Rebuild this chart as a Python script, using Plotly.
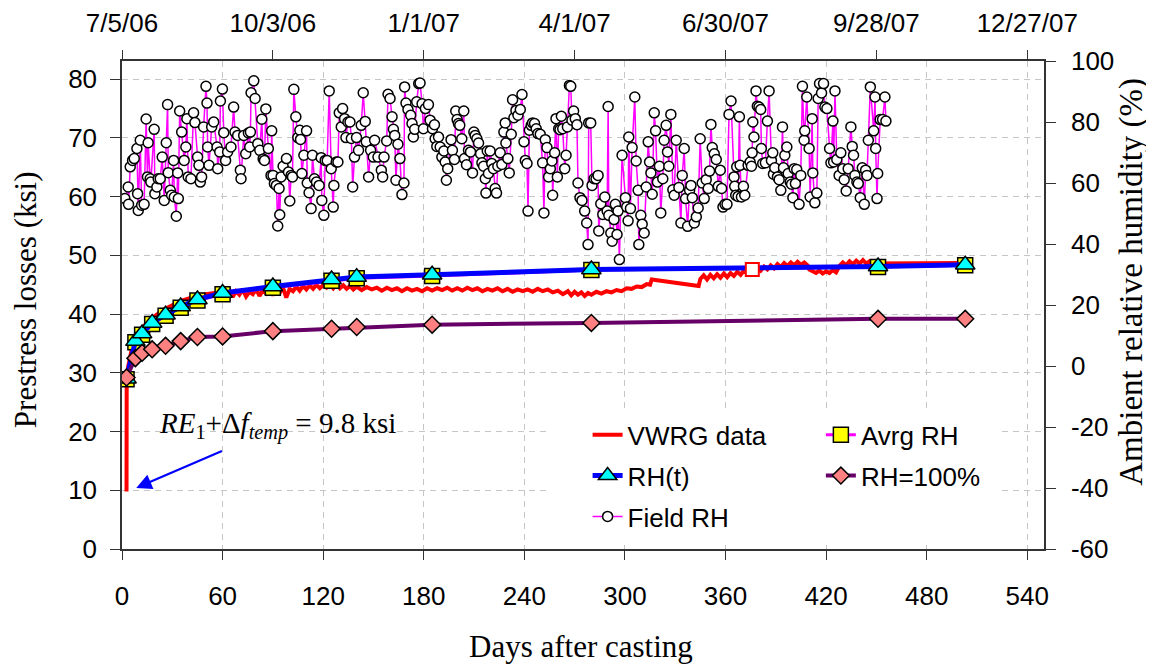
import pandas as pd
import plotly.graph_objects as go

# ---------------- data ----------------
x_ticks = [0, 60, 120, 180, 240, 300, 360, 420, 480, 540]
y_ticks = [0, 10, 20, 30, 40, 50, 60, 70, 80]
y2_ticks = [-60, -40, -20, 0, 20, 40, 60, 80, 100]
y2_labels = ["-60", "-40", "-20", "0", "20", "40", "60", "80", "100"]
cast_date = "2006-07-05"
date_ticks = ["2006-07-05", "2006-10-03", "2007-01-01", "2007-04-01",
              "2007-06-30", "2007-09-28", "2007-12-27"]
date_labels = ["7/5/06", "10/3/06", "1/1/07", "4/1/07", "6/30/07", "9/28/07", "12/27/07"]
date_range = ["2006-07-05", "2008-01-06"]

vwrg_days = [2.7, 2.8, 3.5, 4.5, 5.5, 6.5, 7.5, 9, 11, 13, 15, 17, 19, 21, 23, 25, 27, 29, 31, 33,
             35, 37, 39, 41, 43, 45, 48, 51, 54, 57, 60,
             62, 64, 66, 68, 70, 72, 74, 76, 78, 80, 82, 84, 86, 88, 90, 92, 94, 96, 98, 100,
             102, 104, 106, 108, 110, 112, 114, 116, 118, 120, 122, 124, 126, 128, 130, 132, 134, 136, 138, 140,
             143, 146, 149, 152, 155, 158, 161, 164, 167, 170, 173, 176, 179, 182, 185, 188, 191, 194, 197, 200,
             203, 206, 209, 212, 215, 218, 221, 224, 227, 230, 233, 236, 239, 242, 245, 248, 251, 254, 257, 260,
             263, 266,
             268, 270, 272, 274, 276, 278, 280, 283, 286, 289, 292, 295, 298, 301, 304, 307, 310, 313, 315, 316, 344,
             345, 347, 349, 351, 353, 355, 357, 359, 361, 363, 365, 367, 369, 371, 373, 375, 377, 379, 381, 383,
             385, 387, 389, 391, 393, 395, 397, 399, 401, 403, 405, 407, 409,
             410, 412, 414, 416, 418, 420, 422, 424, 426, 428,
             430, 432, 434, 436, 438, 440, 442, 444, 446, 448, 502]
vwrg_ksi = [9.8, 29.0, 30.8, 32.4, 33.6, 34.5, 35.3, 36.2, 37.2, 38.0, 38.6, 39.1, 39.6, 40.0, 40.4, 40.8, 41.1, 41.4, 41.7, 42.0,
            42.2, 42.4, 42.6, 42.8, 43.0, 43.1, 43.3, 43.4, 43.6, 43.7, 43.8,
            43.4, 44.1, 42.9, 43.9, 43.3, 44.2, 43.0, 43.8, 43.4, 44.3, 43.1, 44.0, 43.5, 44.4, 43.2, 44.2, 43.6, 44.5, 42.8, 44.3,
            43.9, 44.7, 44.0, 44.8, 44.2, 44.9, 44.3, 45.0, 44.4, 44.9, 44.5, 45.1, 44.4, 45.2, 44.4, 44.9, 44.3, 44.8, 44.2, 44.7,
            44.1, 44.6, 44.2, 44.5, 44.0, 44.5, 44.1, 44.4, 43.9, 44.4, 44.0, 44.3, 43.9, 44.4, 44.0, 44.4, 44.1, 44.5, 44.0, 44.4,
            44.0, 44.5, 44.1, 44.4, 43.9, 44.3, 44.0, 44.4, 43.9, 44.3, 43.8, 44.2, 43.9, 44.2, 43.8, 44.3, 43.9, 44.2, 43.7, 44.0,
            43.4, 43.9,
            43.2, 43.8, 43.3, 43.7, 43.1, 43.6, 43.3, 43.8, 43.5, 43.9, 43.7, 44.1, 43.9, 44.4, 44.3, 44.7, 44.6, 45.1, 45.0, 45.9, 44.8,
            46.0, 46.6, 45.9, 46.7, 46.1, 46.8, 46.2, 46.9, 46.3, 47.0, 46.5, 47.2, 46.7, 47.4, 46.9, 47.6, 47.2, 47.9, 47.4, 48.1,
            47.6, 48.3, 47.8, 48.5, 48.0, 48.7, 48.2, 48.8, 48.3, 48.9, 48.4, 48.8, 48.3,
            47.6, 47.3, 47.0, 47.4, 46.9, 47.3, 47.0, 47.5, 47.1, 48.2,
            48.8, 48.3, 49.0, 48.5, 49.1, 48.6, 49.2, 48.6, 49.0, 48.6, 48.7]

vwrg_mark_day = [376]
vwrg_mark_ksi = [47.6]

model_days = [2.7, 8, 12, 18, 26, 35, 45, 60, 90, 125, 140, 185, 280, 451, 503]
rh_t = [29.0, 35.4, 36.7, 38.5, 39.9, 41.3, 42.5, 43.6, 44.7, 45.9, 46.3, 46.7, 47.6, 48.1, 48.4]
avg_rh = [28.9, 35.2, 36.5, 38.3, 39.7, 41.1, 42.3, 43.4, 44.5, 45.7, 46.1, 46.5, 47.5, 48.0, 48.3]
rh100 = [29.2, 32.5, 33.4, 34.0, 34.6, 35.4, 36.1, 36.2, 37.1, 37.5, 37.8, 38.2, 38.5, 39.2, 39.2]

field_days = [
    1.7, 3.7, 3.9, 4.9, 6.3, 7.3, 8.9, 9.3, 9.7, 10.9, 11.7, 13.2, 14.4, 15.2, 15.6, 16.8, 17.2, 19.2, 19.6, 20.8,
    21.6, 22.8, 24.0, 25.2, 26.4, 27.2, 27.6, 28.8, 29.6, 30.8, 31.2, 32.4, 33.2, 33.6, 34.4, 35.6, 37.1, 38.1, 38.7, 39.5,
    41.1, 42.7, 43.5, 45.1, 45.9, 46.7, 47.5, 48.7, 50.1, 50.7, 51.1, 51.9, 53.5, 54.7, 56.7, 57.1, 58.3, 58.7, 59.9, 60.7,
    61.8, 63.0, 65.0, 66.6, 67.4, 69.0, 70.6, 71.0, 72.6, 73.8, 75.4, 76.2, 76.6, 77.0, 78.6, 79.4, 81.0, 82.2, 83.4, 84.2,
    85.0, 85.8, 87.3, 88.9, 89.3, 90.1, 90.9, 92.1, 92.9, 93.7, 94.1, 94.9, 96.1, 98.1, 99.3, 100.1, 100.9, 101.7, 102.5, 103.7,
    104.9, 106.1, 106.5, 107.3, 108.5, 110.1, 110.5, 111.6, 112.8, 113.6, 114.8, 116.0, 117.6, 118.8, 119.2, 120.4, 121.2, 122.4, 123.6, 124.8,
    126.0, 126.4, 127.8, 128.8, 129.6, 130.8, 131.6, 132.8, 133.6, 134.8, 136.0, 136.8, 137.6, 138.7, 139.9, 141.1, 142.7, 143.9, 145.1, 145.7,
    147.1, 148.3, 149.9, 150.7, 152.7, 154.7, 155.5, 156.3, 157.9, 158.7, 159.9, 161.1, 161.9, 162.7, 163.4, 164.6, 165.8, 167.0, 168.2, 168.6,
    169.4, 170.6, 172.2, 173.0, 173.8, 174.6, 175.8, 177.0, 177.8, 179.0, 179.8, 181.0,
    182.8, 183.8, 185.2, 186.4, 186.8, 187.8, 188.8, 189.8, 190.8, 192.0, 192.8, 193.5, 194.3, 196.3, 197.1, 198.3, 199.1, 199.9, 200.7, 201.5,
    202.7, 203.9, 204.3, 205.5, 206.7, 207.9, 209.1, 209.9, 210.7, 211.7, 212.7, 213.9, 214.7, 215.7, 216.7, 217.1, 217.9, 218.6, 219.6, 220.6,
    221.6, 222.6, 223.4, 224.2, 225.6, 226.6, 227.8, 228.6, 229.0, 230.2, 231.0, 232.2, 233.0, 233.8, 235.0, 236.2, 237.6, 238.6, 239.8, 240.6,
    241.6, 242.2, 243.0, 244.1, 244.9, 246.1, 247.1, 248.1, 249.5, 250.9, 251.7, 252.5, 253.5, 254.5, 255.5, 256.5, 256.9, 258.1, 258.9, 259.7,
    260.5, 261.3, 262.1, 262.9, 264.1, 264.9, 265.7, 266.9, 267.7, 268.4, 269.4, 270.4, 271.4, 272.0, 273.2, 274.4, 276.0, 277.2, 278.0, 278.4,
    279.6, 280.4, 281.6, 282.8, 284.0, 284.4, 285.6, 286.8, 288.0, 289.4, 290.0, 290.4, 291.6, 292.4, 293.5, 294.3, 295.3, 295.9, 296.7, 298.3,
    300.3, 301.1, 301.9, 302.3, 303.3, 304.3, 305.9, 306.7, 307.9, 308.3, 309.5, 310.3, 311.5, 312.7, 313.9, 314.7, 315.5, 316.3, 317.5, 318.3,
    319.4, 320.6, 321.4, 322.6, 323.4, 324.6, 325.4, 326.2, 327.4, 328.6, 329.4, 330.6, 332.2, 333.4, 334.2, 335.4, 336.2, 337.4, 338.6, 339.4,
    340.2, 341.4, 342.6, 343.7, 344.9, 346.1, 347.3, 348.5, 349.7, 350.5, 351.3, 352.1, 353.3, 354.5, 355.7, 356.9, 357.7, 358.5, 359.7, 360.9,
    362.1, 363.3,
    365.1, 365.5, 366.1, 366.7, 367.5, 368.3, 368.7, 369.5, 370.7, 371.5, 373.5, 374.7, 375.5, 375.9, 376.3, 377.0, 378.2, 379.0, 380.0, 381.0,
    381.4, 382.2, 383.8, 385.0, 386.0, 387.4, 388.2, 388.6, 389.4, 391.0, 392.0, 393.0, 394.0, 394.6, 395.4, 396.6, 397.4, 398.6, 399.4, 400.2,
    401.0, 401.7, 402.5, 403.9, 404.9, 405.9, 406.9, 407.3, 408.5, 409.9, 410.5, 411.7, 412.1, 413.3, 414.5, 415.3, 416.1, 417.3, 418.5, 419.3,
    420.5, 422.1, 422.9, 424.1, 424.5, 425.3, 426.4, 427.8, 428.8, 430.0, 430.8, 432.0, 433.2, 434.8, 435.6, 436.4, 437.2, 438.4, 439.2, 440.4,
    441.6, 442.8, 443.6, 444.4, 445.2, 446.4, 448.4, 449.2, 449.6, 450.4, 450.8, 452.3, 453.7, 455.1, 455.7]
field_rh = [
    54.9, 58.7, 53.0, 65.3, 67.4, 68.0, 71.3, 56.5, 51.0, 74.0, 52.7, 53.0, 81.0, 62.0, 73.2, 61.4, 60.3, 77.6, 56.5, 58.7,
    61.4, 61.4, 68.5, 54.3, 73.2, 85.7, 63.4, 57.6, 56.0, 67.4, 55.4, 49.1, 63.3, 54.9, 83.6, 76.7, 67.4, 71.8, 81.1, 62.0,
    61.4, 83.0, 79.8, 68.5, 65.8, 60.3, 62.0, 78.4, 91.7, 86.2, 71.8, 65.8, 78.4, 80.0, 71.8, 64.7, 70.2, 86.9, 90.8, 76.5,
    67.4, 70.2, 71.8, 84.9, 76.7, 75.6, 64.2, 61.4, 75.6, 69.6, 76.4, 71.8, 76.7, 89.6, 93.5, 87.7, 72.9, 70.7, 80.9, 67.9,
    67.4, 84.3, 71.3, 62.5, 77.1, 62.5, 59.8, 59.2, 45.9, 58.2, 49.6, 62.0, 65.5, 68.0, 63.6, 54.1, 62.5, 62.0, 90.7, 81.7,
    74.9, 77.3, 74.3, 63.1, 69.1, 77.1, 60.0, 56.8, 51.6, 69.1, 61.4, 60.3, 59.2, 68.3, 54.3, 49.4, 67.4, 67.4, 90.2, 64.7,
    52.1, 59.2, 66.9, 66.9, 83.0, 78.4, 84.4, 81.1, 74.9, 80.0, 80.0, 74.6, 58.7, 68.5, 74.9, 70.7, 78.9, 89.6, 80.2, 73.5,
    62.0, 70.7, 68.5, 74.0, 68.5, 64.2, 62.0, 68.5, 73.8, 89.1, 87.7, 81.7, 77.6, 75.6, 60.9, 72.7, 68.0, 56.2, 60.0, 91.5,
    86.2, 84.1, 82.2, 79.5, 75.1, 77.6, 86.6, 92.6, 92.8, 86.0, 77.8, 84.4,
    85.7, 80.6, 77.8, 79.1, 74.5, 72.0, 75.1, 71.8, 68.5, 70.5, 66.9, 60.9, 64.7, 74.2, 70.7, 67.7, 83.6, 80.8, 79.5, 78.9,
    74.5, 83.6, 68.0, 66.0, 70.7, 70.2, 63.3, 76.7, 75.6, 74.5, 73.1, 69.6, 66.6, 65.5, 61.4, 56.7, 70.5, 63.1, 70.5, 66.4,
    64.7, 58.2, 56.7, 65.5, 69.9, 66.1, 76.7, 79.7, 73.1, 68.0, 63.3, 76.0, 87.3, 81.4, 83.8, 82.2, 84.1, 89.0, 73.5, 67.4,
    66.4, 50.8, 77.3, 78.9, 79.7, 79.5, 77.8, 76.2, 76.0, 66.6, 50.2, 74.2, 71.6, 62.0, 64.7, 67.2, 56.0, 69.9, 81.1, 62.0,
    77.8, 77.5, 81.9, 77.8, 64.7, 69.1, 78.4, 92.0, 91.7, 80.6, 83.6, 81.1, 79.1, 60.0, 55.2, 54.3, 50.8, 46.9, 39.8, 79.7,
    79.7, 59.2, 61.4, 61.4, 62.5, 44.3, 53.2, 49.7, 55.4, 50.8, 85.1, 49.4, 43.6, 40.9, 48.0, 53.0, 43.1, 50.8, 34.9, 69.1,
    55.2, 52.1, 47.6, 75.1, 51.6, 71.6, 88.2, 67.2, 57.6, 39.8, 49.4, 46.5, 43.6, 58.7, 73.5, 66.9, 63.3, 56.3, 83.0, 77.1,
    60.3, 65.5, 50.2, 61.4, 74.0, 78.9, 70.2, 65.5, 82.5, 57.8, 56.0, 74.0, 58.5, 46.9, 62.5, 71.3, 54.9, 45.8, 57.6, 59.2,
    55.2, 46.9, 48.9, 51.8, 74.5, 60.0, 54.9, 61.1, 58.2, 63.9, 79.2, 71.6, 69.6, 67.7, 58.9, 64.2, 58.2, 52.1, 53.0, 53.0,
    82.5, 86.9,
    62.0, 58.9, 56.0, 65.3, 55.6, 81.7, 65.8, 55.4, 58.9, 56.0, 65.8, 66.9, 65.5, 69.9, 80.0, 75.1, 90.2, 85.2, 84.9, 84.1,
    71.3, 66.4, 66.6, 80.3, 90.2, 67.4, 69.9, 62.9, 65.0, 62.0, 61.1, 57.6, 78.4, 65.0, 69.1, 71.8, 63.1, 60.3, 59.6, 55.2,
    64.7, 59.8, 64.4, 53.0, 62.5, 91.7, 74.0, 77.1, 88.2, 71.3, 55.4, 81.1, 63.3, 53.5, 56.7, 87.7, 92.6, 89.5, 92.6, 84.9,
    84.4, 71.3, 66.6, 80.3, 66.9, 90.2, 67.7, 62.5, 69.9, 64.7, 61.1, 57.4, 64.7, 78.4, 72.0, 69.1, 62.5, 60.3, 59.8, 55.2,
    65.0, 53.0, 64.2, 62.5, 74.0, 91.5, 77.1, 88.2, 71.3, 54.9, 63.1, 80.8, 80.8, 88.2, 80.3]

label_text = "<i>RE</i><sub>1</sub>+Δ<i>f</i><sub><i>temp</i></sub> = 9.8 ksi"
label_pos = (93, 21.0)
arrow_head = (8.5, 10.4)
arrow_tail = (62.6, 17.05)

# field RH measured on calendar dates (top axis)
field_dates = pd.Timestamp(cast_date) + pd.to_timedelta(field_days, unit="D")

# ---------------- figure ----------------
SANS = "Arial, Liberation Sans, sans-serif"
SERIF = "Times New Roman, Liberation Serif, serif"
AXC = "#333333"
GRID = "#c6c6c6"

fig = go.Figure()
fig.add_trace(go.Scatter(x=vwrg_days, y=vwrg_ksi, mode="lines", name="VWRG data",
                         line=dict(color="#ff0000", width=4),
                         legend="legend", legendgroup="a"))
fig.add_trace(go.Scatter(x=model_days, y=avg_rh, mode="lines+markers", name="Avrg RH",
                         line=dict(color="#ff00ff", width=3),
                         marker=dict(symbol="square", size=15, color="#ffff00",
                                     line=dict(color="black", width=1.5)),
                         legend="legend2", legendgroup="b"))
fig.add_trace(go.Scatter(x=model_days, y=rh_t, mode="lines+markers", name="RH(t)",
                         line=dict(color="#0000ff", width=5),
                         marker=dict(symbol="triangle-up", size=17, color="#00ffff",
                                     line=dict(color="black", width=1.5)),
                         legend="legend", legendgroup="c"))
fig.add_trace(go.Scatter(x=model_days, y=rh100, mode="lines+markers", name="RH=100%",
                         line=dict(color="#660066", width=4),
                         marker=dict(symbol="diamond", size=13, color="#ff8080",
                                     line=dict(color="black", width=1.5)),
                         legend="legend2", legendgroup="d"))
fig.add_trace(go.Scatter(x=vwrg_mark_day, y=vwrg_mark_ksi, mode="markers", showlegend=False,
                         marker=dict(symbol="square", size=13, color="white",
                                     line=dict(color="#ff0000", width=2))))
fig.add_trace(go.Scatter(x=field_dates, y=field_rh, xaxis="x2", yaxis="y2",
                         mode="lines+markers", name="Field RH",
                         line=dict(color="#ff00ff", width=1.5),
                         marker=dict(symbol="circle", size=10, color="white",
                                     line=dict(color="black", width=1.5)),
                         legend="legend", legendgroup="e"))

fig.update_layout(
    width=1154, height=666,
    margin=dict(l=114, r=118, t=53, b=125, autoexpand=False),
    paper_bgcolor="white", plot_bgcolor="white",
    font=dict(family=SANS, size=26, color="black"),
    xaxis=dict(range=[0, 550], tickvals=x_ticks, ticks="outside", ticklen=9, tickwidth=1.3,
               tickcolor=AXC, showline=True, linecolor=AXC, linewidth=1.5, automargin=False,
               showgrid=True, gridcolor=GRID, gridwidth=1, griddash="6px,5px",
               zeroline=False, ticklabelstandoff=14, tickfont=dict(family=SANS, size=26)),
    yaxis=dict(range=[0, 83.1], tickvals=y_ticks, ticks="outside", ticklen=10, tickwidth=1.3,
               tickcolor=AXC, showline=True, linecolor=AXC, linewidth=1.5, automargin=False,
               showgrid=True, gridcolor=GRID, gridwidth=1, griddash="6px,5px",
               zeroline=False, ticklabelstandoff=8, tickfont=dict(family=SANS, size=26)),
    xaxis2=dict(overlaying="x", side="top", anchor="y2", type="date", range=date_range,
                tickvals=date_ticks, ticktext=date_labels, ticks="outside", ticklen=9, tickwidth=1.3,
                tickcolor=AXC, showline=True, linecolor=AXC, linewidth=1.5, showgrid=False,
                automargin=False, zeroline=False, ticklabelstandoff=8,
                tickfont=dict(family=SANS, size=26)),
    yaxis2=dict(overlaying="y", side="right", anchor="x", range=[-60, 100],
                tickvals=y2_ticks, ticktext=y2_labels, ticks="outside", ticklen=10, tickwidth=1.3,
                tickcolor=AXC, showline=True, linecolor=AXC, linewidth=1.5, showgrid=False,
                automargin=False, zeroline=False, ticklabelstandoff=10,
                tickfont=dict(family=SANS, size=26)),
    legend=dict(x=0.505, y=0.282, xanchor="left", yanchor="top", bgcolor="rgba(0,0,0,0)",
                font=dict(family=SANS, size=26), traceorder="grouped", tracegroupgap=4),
    legend2=dict(x=0.758, y=0.282, xanchor="left", yanchor="top", bgcolor="rgba(0,0,0,0)",
                 font=dict(family=SANS, size=26), traceorder="grouped", tracegroupgap=4),
    shapes=[dict(type="rect", xref="paper", yref="paper", x0=0.461, x1=0.949, y0=0.016, y1=0.279,
                 fillcolor="white", line=dict(width=0), layer="above")],
    annotations=[
        dict(text="Prestress losses (ksi)", xref="paper", yref="paper", x=-0.1052, y=0.51,
             xanchor="center", yanchor="middle",
             textangle=-90, showarrow=False, font=dict(family=SERIF, size=31)),
        dict(text="Ambient relative humidity (%)", xref="paper", yref="paper", x=1.094, y=0.547,
             xanchor="center", yanchor="middle",
             textangle=-90, showarrow=False, font=dict(family=SERIF, size=33)),
        dict(text="Days after casting", xref="paper", yref="paper", x=0.498, y=-0.2008,
             xanchor="center", yanchor="middle",
             showarrow=False, font=dict(family=SERIF, size=31)),
        dict(text=label_text, xref="x", yref="y", x=label_pos[0], y=label_pos[1],
             xanchor="center", yanchor="middle",
             showarrow=False, font=dict(family=SERIF, size=29)),
        dict(text=" ", xref="x", yref="y", x=arrow_head[0], y=arrow_head[1],
             axref="x", ayref="y", ax=arrow_tail[0], ay=arrow_tail[1],
             showarrow=True, arrowhead=2, arrowsize=1.4, arrowwidth=2.2,
             arrowcolor="#0000ff", standoff=0, startstandoff=0),
    ],
)

fig.write_html("out.html")
